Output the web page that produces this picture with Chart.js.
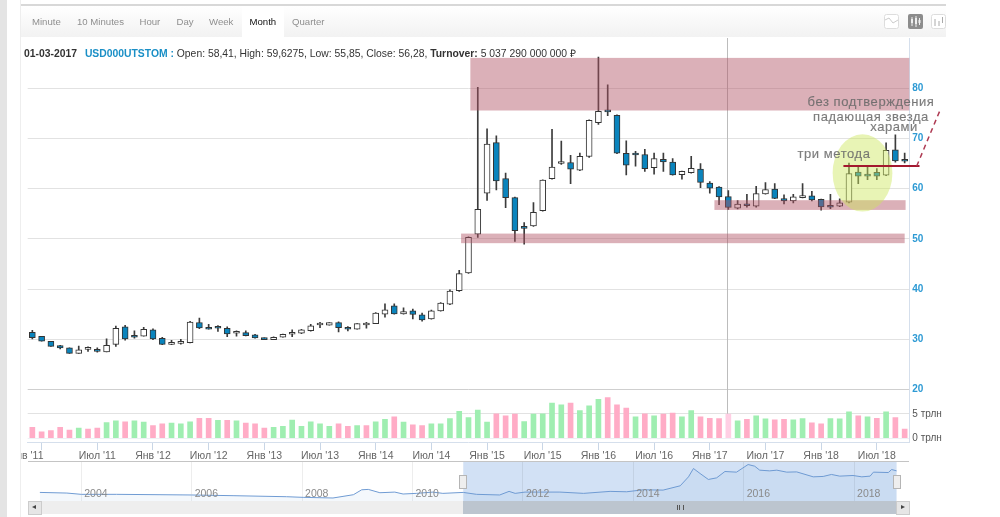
<!DOCTYPE html>
<html lang="ru">
<head>
  <meta charset="UTF-8" />
  <title>USD000UTSTOM Month</title>
  <script src="https://cdn.jsdelivr.net/npm/chart.js"></script>
  <style>
    body { margin: 0; background: #fff; font-family: "Liberation Sans", Arial, sans-serif; }
    #page { position: relative; width: 1000px; height: 517px; overflow: hidden; filter: blur(.4px); }
    #page div { position: absolute; }
    canvas { position: absolute; left: 0; }
    #band { left: 0; top: 0; width: 7px; height: 517px; background: #e4e4e4; z-index: 3; }
    #edge { left: 7px; top: 0; width: 13px; height: 517px; background: #fff; border-right: 1px solid #eee; z-index: 3; }
    #toolbar { left: 20px; top: 4px; width: 926px; height: 33px; border-top: 2px solid #d8d8d8; box-sizing: border-box;
               background: linear-gradient(#fff, #f2f2f2); }
    .tab { top: 16px; font-size: 9.6px; color: #8f8f8f; z-index: 2; }
    #tabActive { left: 242px; top: 6px; width: 42px; height: 31px; background: #fff; z-index: 1; }
    #headline { left: 24px; top: 46px; font-size: 10.37px; color: #333; white-space: nowrap; z-index: 2; }
    #headline b.sym { color: #1a8fc6; margin: 0 0 0 5px; }
    #firstLabel { right: 956.5px; top: 449px; font-size: 10.5px; color: #666; white-space: nowrap; z-index: 2; }
    .note { font-size: 13px; letter-spacing: 0.55px; color: rgba(105,105,105,.85); -webkit-text-stroke: .15px rgba(105,105,105,.85);
            white-space: nowrap; z-index: 4; transform: translateX(-50%); }
    .handle { top: 475px; width: 6px; height: 12px; background: #eee; border: 1px solid #b5b5b5; z-index: 4; }
    #navtop { left: 28px; top: 461px; width: 881px; height: 1px; background: #c4c4c4; z-index: 2; }
    #track { left: 28px; top: 501px; width: 881px; height: 13px; background: #eee; }
    #thumb { left: 463px; top: 501px; width: 434px; height: 13px; background: #bcc5cf; }
    #grip { left: 677px; top: 505px; width: 5px; height: 5px; border-left: 1px solid #555; border-right: 1px solid #555; }
    #grip2 { left: 679px; top: 505px; width: 1px; height: 5px; background: #555; }
    .btn { top: 501px; width: 12px; height: 12px; background: #e6e6e6; border: 1px solid #ccc; }
    .tri { top: 505px; width: 0; height: 0; border-top: 2.5px solid transparent; border-bottom: 2.5px solid transparent; }
    svg { position: absolute; top: 14px; z-index: 2; }
  </style>
</head>
<body>
<div id="page">
  <div id="toolbar"></div>
  <div id="tabActive"></div>
  <div class="tab" style="left:32px">Minute</div>
  <div class="tab" style="left:77px">10 Minutes</div>
  <div class="tab" style="left:139.5px">Hour</div>
  <div class="tab" style="left:176.5px">Day</div>
  <div class="tab" style="left:209px">Week</div>
  <div class="tab" style="left:249.5px;color:#111">Month</div>
  <div class="tab" style="left:292px">Quarter</div>

  <svg style="left:884px" width="15" height="15"><rect x=".5" y=".5" width="14" height="14" rx="2" fill="#fff" stroke="#ddd"/><path d="M1 6 L5 4 L9 9 L14 6" fill="none" stroke="#ccc"/></svg>
  <svg style="left:908px" width="15" height="15"><rect width="15" height="15" rx="2" fill="#8c8c8c"/><path d="M4 3V12M8 2V13M11.5 4V11" stroke="#eee"/><rect x="3" y="5" width="2" height="4" fill="#eee"/><rect x="7" y="4" width="2" height="6" fill="#eee"/><rect x="10.5" y="6" width="2" height="3" fill="#eee"/></svg>
  <svg style="left:931px" width="15" height="15"><rect x=".5" y=".5" width="14" height="14" rx="2" fill="#fff" stroke="#ddd"/><path d="M4 5V12M8 7V12M11.5 3V9" stroke="#aaa"/></svg>

  <div id="headline"><b>01-03-2017</b> <b class="sym">USD000UTSTOM :</b> Open: 58,41, High: 59,6275, Low: 55,85, Close: 56,28, <b>Turnover:</b> 5 037 290 000 000 ₽</div>

  <canvas id="mainChart" width="1000" height="517" style="top:0"></canvas>
  <div id="firstLabel">Янв '11</div>
  <div id="track"></div>
  <div id="thumb"></div>
  <canvas id="navChart" width="1000" height="40" style="top:461px;z-index:1"></canvas>
  <div id="navtop"></div>
  <div id="grip"></div><div id="grip2"></div>
  <div class="btn" style="left:28px"></div>
  <div class="tri" style="left:32px;border-right:4px solid #444"></div>
  <div class="btn" style="left:896px"></div>
  <div class="tri" style="left:901px;border-left:4px solid #444"></div>
  <div class="handle" style="left:459px"></div>
  <div class="handle" style="left:893px"></div>

  <div id="band"></div>
  <div id="edge"></div>

  <div class="note" style="left:871px;top:94px">без подтверждения</div>
  <div class="note" style="left:871px;top:109px">падающая звезда</div>
  <div class="note" style="left:894px;top:119px">харами</div>
  <div class="note" style="left:834px;top:146px">три метода</div>
</div>

<script>
  // месяцы свечей
  const months = [
    "Дек '10",
    "Янв '11","Фев '11","Мар '11","Апр '11","Май '11","Июн '11","Июл '11","Авг '11","Сен '11","Окт '11","Ноя '11","Дек '11",
    "Янв '12","Фев '12","Мар '12","Апр '12","Май '12","Июн '12","Июл '12","Авг '12","Сен '12","Окт '12","Ноя '12","Дек '12",
    "Янв '13","Фев '13","Мар '13","Апр '13","Май '13","Июн '13","Июл '13","Авг '13","Сен '13","Окт '13","Ноя '13","Дек '13",
    "Янв '14","Фев '14","Мар '14","Апр '14","Май '14","Июн '14","Июл '14","Авг '14","Сен '14","Окт '14","Ноя '14","Дек '14",
    "Янв '15","Фев '15","Мар '15","Апр '15","Май '15","Июн '15","Июл '15","Авг '15","Сен '15","Окт '15","Ноя '15","Дек '15",
    "Янв '16","Фев '16","Мар '16","Апр '16","Май '16","Июн '16","Июл '16","Авг '16","Сен '16","Окт '16","Ноя '16","Дек '16",
    "Янв '17","Фев '17","Мар '17","Апр '17","Май '17","Июн '17","Июл '17","Авг '17","Сен '17","Окт '17","Ноя '17","Дек '17",
    "Янв '18","Фев '18","Мар '18","Апр '18","Май '18","Июн '18","Июл '18","Авг '18","Сен '18","Окт '18"
  ];

  const opens = [
    31.4,30.6,29.6,28.73,28.3,27.2,28,27.7,27.5,29,32.5,30.6,30.6,31.9,30.2,29,29.2,29.35,33.35,32.4,
    32.4,32.2,31.2,31.33,30.87,30.27,29.93,30.4,31,31.2,31.73,32.85,32.8,33.33,32.33,32,32.85,33.13,35,36.67,
    35.07,35.67,34.87,34.07,35.67,37,39.67,43.2,50.93,59.1,69.18,62,58.2,52.2,52.6,55.6,62,65,65.2,63.7,
    66.4,73.15,75.7,74.6,67.05,66.8,66.8,64.2,65.85,65.3,62.8,63.2,63.9,61.13,60.33,58.41,56.1,56.95,56.5,58.95,
    59.93,58,57.55,58.2,58.55,57.87,56.4,56.5,57.3,63.3,62.85,63.25,62.7,67.75,65.5
  ];
  const highs = [
    31.8,30.6,29.6,28.8,28.3,28.67,28.5,28.3,30.1,32.65,32.8,31.7,32.4,32.1,30.4,29.8,30,33.6,34.2,33,
    32.75,32.5,31.7,31.67,31,30.27,30.47,31.05,31.87,32,33,33.4,33.33,33.47,32.53,33.13,33.4,35.3,37.07,37.07,
    36.27,36,35.2,35.8,37.3,39.87,43.73,50.4,80.2,71.9,70.5,63.1,58.3,53.25,57.2,61.75,71.8,69.45,66.65,67.1,
    73.7,86.2,80.65,74.7,69.5,67.45,67.85,67.1,67.1,66,63.5,66.45,64.97,61.4,60.4,59.6275,57.6,58.87,60.45,61.2,
    61,58.75,58.87,61,59.47,57.9,58.87,57.95,65.1,64.25,64.5,64,69.1,70.7,67.1
  ];
  const lows = [
    30.07,29.6,28.6,28.1,27.2,27.2,27.6,27.45,27.5,28.6,29.8,30.2,30.6,29.9,28.95,28.95,29.05,29.3,32.1,32,
    31.55,30.5,30.6,30.67,30.2,29.93,29.9,30.4,30.53,31.1,31.6,32.33,32.8,31.47,31.67,32,32.2,33.13,34.4,35,
    35,34.07,33.6,34,35.6,36.87,39.53,43.1,50.3,57.63,59.75,56.2,49.5,48.95,52.5,55.5,61.9,64.8,61,63.6,
    66.2,72.8,74.55,66.95,62.75,64.5,63.45,62.87,63.45,62.67,61.9,63.07,60.2,59.1,56.8,55.85,55.95,56.3,56.3,58.9,
    58,56.95,57.15,58.15,57.55,55.7,56,56.4,57.15,61,61.8,61.8,62.6,65.25,65.1
  ];
  const closes = [
    30.33,29.6,28.6,28.27,27.2,27.9,28.05,27.6,28.8,32.2,30.07,30.4,32,30.07,29,29.35,29.35,33.45,32.25,32,
    32.2,31.07,31.25,30.73,30.27,29.93,30.4,31,31.05,31.87,32.67,32.9,33.33,32.33,32,33.13,32.9,35.2,35.87,35.07,
    35.53,34.93,33.87,35.67,37.2,39.6,43.07,50.3,55.9,68.85,61.55,58.2,51.65,52.1,55.3,61.7,64.27,65.3,63.87,66.45,
    73.6,75.4,75.3,67.05,64.65,66.7,64,66,65.3,62.75,63.45,64.07,61.25,60.07,58.35,56.28,56.95,56.6,59,59.8,
    58.07,57.55,58.35,58.55,57.75,56.35,56.3,57.15,63,62.5,62.5,62.5,67.65,65.5,65.45
  ];

  // оборот, трлн руб.
  const volumes = [
    2.26,1.3,1.58,2.26,1.7,2.1,1.9,2.1,3.2,3.56,3.35,3.56,3.3,2.6,2.95,3.1,2.95,3.35,4.1,4.1,
    3.7,3.7,3.56,3.1,2.95,2.1,2.26,2.45,3.75,2.45,3.35,2.95,2.45,2.95,2.45,2.6,2.6,3.35,3.9,4.4,
    3.3,2.75,2.6,2.95,2.95,4.05,5.55,4.25,5.8,3.3,5,4.6,4.95,3.4,4.95,5,7.2,6.85,7.2,5.7,
    6.65,8,8.35,6.85,6.2,4.4,5,4.6,4.95,5.15,4.4,5.7,4.4,4.1,4.05,4.95,3.56,3.9,4.6,3.97,
    3.77,3.9,3.77,4.05,3.15,2.95,4.05,3.97,5.4,4.6,4.4,4.1,5.4,4.25,1.9
  ];
  // 1 - зелёный столбец, 0 - розовый
  const volumeUp = [
    0,0,0,0,0,1,0,0,1,1,0,1,1,0,0,1,1,1,0,0,
    1,0,1,0,0,0,1,1,1,1,1,1,1,0,0,1,0,1,1,0,
    1,0,0,1,1,1,1,1,1,1,0,0,0,1,1,1,1,1,0,1,
    1,1,0,0,0,1,0,1,0,0,1,1,0,0,0,0,1,0,1,1,
    0,0,1,1,0,0,1,1,1,0,1,0,1,0,0
  ];

  // навигатор внизу
  const navYears = [
    2003.25,2003.74,2004,2004.64,2006,2006.75,2007.72,2008.02,2008.56,2008.93,2009.08,2009.2,2009.41,2009.68,2009.83,
    2010.07,2010.37,2010.55,2010.92,2011.16,2011.58,2011.75,2011.86,2012.04,2012.67,2013.1,2013.58,2013.88,2014.18,2014.54,
    2014.85,2015,2015.09,2015.21,2015.36,2015.51,2015.66,2015.87,2016.08,2016.2,2016.29,2016.47,2016.6,2016.78,2016.96,
    2017.26,2017.44,2017.59,2017.74,2017.98,2018.14,2018.29,2018.35,2018.62,2018.68,2018.77
  ];
  const navValues = [
    31,30,28,28,27,25.9,24.3,23.3,22.3,27.4,35.1,35.7,30.5,31.5,28.5,
    29.5,31.5,29.5,31,28,27,32.6,29.5,31.5,31.5,29.5,32.6,32,35.1,34.6,
    41.3,55.3,68.3,60.5,51.2,53.7,63.6,62.6,74.5,71.9,65.7,64.6,65.7,62.6,63,
    55.3,55.9,59,56.4,57.4,55.3,56.4,62.6,62,66.7,64.6
  ];
  const navSelection = [2010.92, 2018.77];

  // разметка автора: индекс месяца от/до, цена от/до
  const zones = [
    [47.2, 94.5, 75.56, 86.04],
    [46.2, 94.0, 49.14, 51.05],
    [73.5, 94.1, 55.76, 57.7]
  ];
  const ellipse = [89.46, 63.13, 3.22, 7.7];
  const supportLine = [87.4, 95.6, 64.5];
  const dashLine = [95.3, 64.5, 97.9, 76];
  const hoverIndex = 75;

  const FONT = "'Liberation Sans', Arial, sans-serif";

  // перекрестие под свечами
  const crosshairPlugin = {
    id: "crosshair",
    beforeDatasetsDraw(chart) {
      const c = chart.ctx, x = Math.round(chart.scales.x.getPixelForValue(hoverIndex)) - 0.5;
      c.save();
      c.strokeStyle = "#bcbcbc";
      c.beginPath();
      c.moveTo(x, chart.chartArea.top);
      c.lineTo(x, chart.scales.vol.getPixelForValue(volumes[hoverIndex]));
      c.stroke();
      c.restore();
    }
  };

  // зоны, эллипс и линии поверх графика
  const markupPlugin = {
    id: "markup",
    afterDatasetsDraw(chart) {
      const c = chart.ctx, sx = chart.scales.x, sy = chart.scales.y;
      c.save();
      c.fillStyle = "rgba(175,79,97,.45)";
      for (const z of zones) {
        const x0 = sx.getPixelForValue(z[0]), x1 = sx.getPixelForValue(z[1]);
        const y0 = sy.getPixelForValue(z[3]), y1 = sy.getPixelForValue(z[2]);
        c.fillRect(x0, y0, x1 - x0, y1 - y0);
      }
      const ex = sx.getPixelForValue(ellipse[0]), ey = sy.getPixelForValue(ellipse[1]);
      const rx = sx.getPixelForValue(ellipse[0] + ellipse[2]) - ex;
      const ry = ey - sy.getPixelForValue(ellipse[1] + ellipse[3]);
      c.fillStyle = "rgba(205,230,90,.45)";
      c.beginPath();
      c.ellipse(ex, ey, rx, ry, 0, 0, Math.PI * 2);
      c.fill();

      c.strokeStyle = "#a3182f";
      c.lineWidth = 2;
      c.beginPath();
      c.moveTo(sx.getPixelForValue(supportLine[0]), sy.getPixelForValue(supportLine[2]));
      c.lineTo(sx.getPixelForValue(supportLine[1]), sy.getPixelForValue(supportLine[2]));
      c.stroke();

      c.strokeStyle = "#ae3a52";
      c.lineWidth = 1.5;
      c.setLineDash([5, 4]);
      c.beginPath();
      c.moveTo(sx.getPixelForValue(dashLine[0]), sy.getPixelForValue(dashLine[1]));
      c.lineTo(sx.getPixelForValue(dashLine[2]), sy.getPixelForValue(dashLine[3]));
      c.stroke();
      c.restore();
    }
  };

  new Chart(document.getElementById("mainChart"), {
    type: "bar",
    plugins: [crosshairPlugin, markupPlugin],
    data: {
      labels: months,
      datasets: [
        {
          label: "Body",
          order: 1,
          yAxisID: "y",
          grouped: false,
          barThickness: 6,
          minBarLength: 2,
          borderWidth: 1,
          borderSkipped: false,
          borderColor: "#333",
          backgroundColor: closes.map((v, i) => v >= opens[i] ? "#ffffff" : "#0a84bd"),
          data: opens.map((v, i) => [v, closes[i]])
        },
        {
          label: "Wick",
          order: 2,
          yAxisID: "y",
          grouped: false,
          barThickness: 1,
          borderWidth: 0,
          backgroundColor: "#3c3c3c",
          data: lows.map((v, i) => [v, highs[i]])
        },
        {
          label: "Turnover",
          order: 3,
          yAxisID: "vol",
          grouped: false,
          barThickness: 5,
          backgroundColor: volumeUp.map((v, i) => i === hoverIndex ? "#ffcfe4" : (v ? "#9feeb1" : "#ffacc6")),
          data: volumes
        }
      ]
    },
    options: {
      responsive: false,
      animation: false,
      events: [],
      layout: { padding: { left: 27.7, top: 38, right: 0, bottom: 0 } },
      plugins: { legend: { display: false }, tooltip: { enabled: false } },
      scales: {
        x: {
          offset: true,
          afterFit: s => { s.height = 75; },
          grid: {
            offset: false,
            drawOnChartArea: false,
            tickLength: 8,
            color: c => /^(Янв|Июл)/.test(months[c.index] || "") ? "#c9d6e6" : "rgba(0,0,0,0)"
          },
          border: { color: "#d5dfec" },
          ticks: {
            autoSkip: false,
            maxRotation: 0,
            padding: 0,
            color: "#666",
            font: { family: FONT, size: 10.5 },
            // первая подпись обрезана краем панели, она вынесена в #firstLabel
            callback: (v, i) => i > 1 && /^(Янв|Июл)/.test(months[i]) ? months[i] : ""
          }
        },
        y: {
          position: "right",
          stack: "panels",
          stackWeight: 351.5,
          min: 20,
          max: 90,
          afterFit: s => { s.width = 90.7; },
          afterBuildTicks: s => { s.ticks = s.ticks.filter(t => t.value < 90); },
          grid: { color: c => c.tick && c.tick.value === 20 ? "#cfcfcf" : "#e2e2e2", drawTicks: false },
          border: { color: "#d5dfec" },
          ticks: { stepSize: 10, padding: 3, color: "#2d9ad4", font: { family: FONT, size: 10, weight: "bold" } }
        },
        vol: {
          position: "right",
          stack: "panels",
          stackWeight: 52.5,
          min: -0.76,
          max: 10,
          afterFit: s => { s.width = 90.7; },
          afterBuildTicks: s => { s.ticks = [{ value: 0 }, { value: 5 }]; },
          grid: { color: c => c.tick && c.tick.value === 5 ? "#e2e2e2" : "#eef1f5", drawTicks: false },
          border: { color: "#d5dfec" },
          ticks: { padding: 3, color: "#555", font: { family: FONT, size: 10 }, callback: v => v + " трлн" }
        }
      }
    }
  });

  // выделенный диапазон навигатора
  const selectionPlugin = {
    id: "selection",
    // подписи лет лежат внутри области графика, поэтому коробку оси поднимаем
    afterLayout(chart) {
      const s = chart.scales.x;
      s.top = chart.chartArea.bottom - 14;
      s.bottom = chart.chartArea.bottom;
    },
    beforeDraw(chart) {
      const s = chart.scales.x, a = chart.chartArea;
      const x0 = s.getPixelForValue(navSelection[0]), x1 = s.getPixelForValue(navSelection[1]);
      chart.ctx.fillStyle = "#d2e1f5";
      chart.ctx.fillRect(x0, a.top, x1 - x0, a.bottom - a.top);
    }
  };

  new Chart(document.getElementById("navChart"), {
    type: "line",
    plugins: [selectionPlugin],
    data: {
      datasets: [{
        data: navYears.map((y, i) => ({ x: y, y: navValues[i] })),
        borderColor: "#6f9bd3",
        borderWidth: 1,
        pointRadius: 0,
        tension: 0,
        fill: "start",
        backgroundColor: "rgba(120,160,220,.08)"
      }]
    },
    options: {
      responsive: false,
      animation: false,
      events: [],
      layout: { padding: { left: 27.7, right: 90.7, top: 0, bottom: 0 } },
      plugins: { legend: { display: false }, tooltip: { enabled: false } },
      scales: {
        x: {
          type: "linear",
          min: 2003.03,
          max: 2019,
          afterFit: s => { s.height = 0; },
          grid: { color: "rgba(0,0,0,.07)", drawTicks: false },
          border: { display: false },
          ticks: {
            stepSize: 2,
            includeBounds: false,
            maxRotation: 0,
            autoSkip: false,
            align: "start",
            labelOffset: 3,
            padding: 1,
            z: 1,
            color: "#8a8a8a",
            font: { family: FONT, size: 10.5 },
            callback: v => String(v)
          }
        },
        y: { display: false, min: 17.6, max: 80 }
      }
    }
  });
</script>
</body>
</html>
